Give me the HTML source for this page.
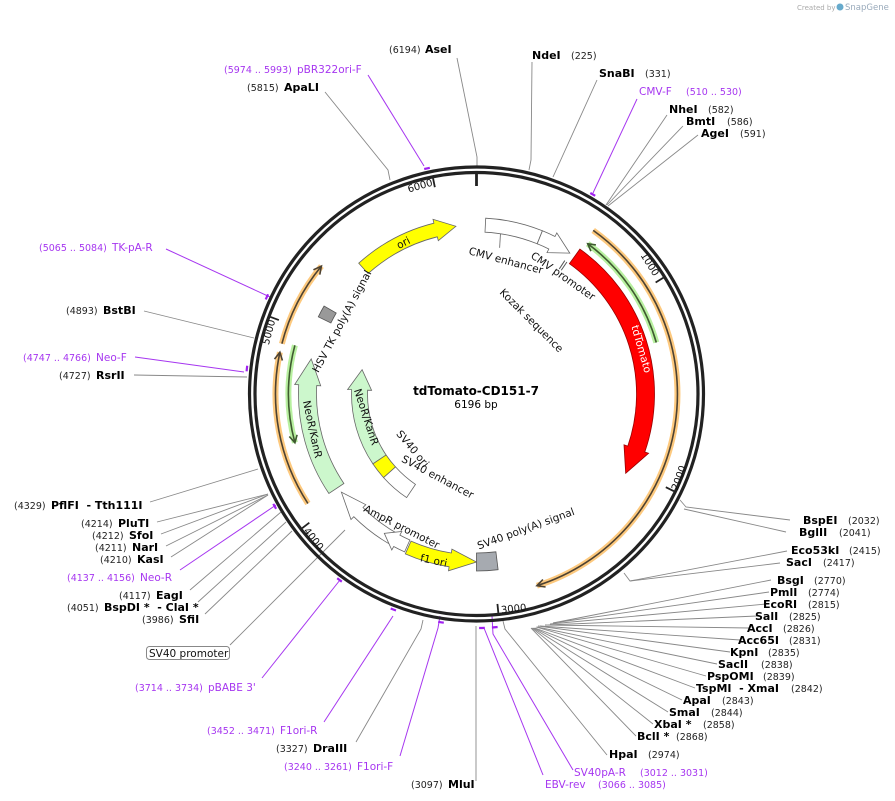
<!DOCTYPE html>
<html><head><meta charset="utf-8"><style>
html,body{margin:0;padding:0;background:#fff;}
svg{display:block;font-family:"DejaVu Sans","Liberation Sans",sans-serif;}
.e{font-size:11px;font-weight:bold;fill:#000}
.n{font-size:9.5px;fill:#222}
.p{font-size:10.5px;fill:#a636f0}
.pn{font-size:9.5px;fill:#a636f0}
.f{font-size:10.5px;fill:#111}
.t{font-size:10px;fill:#111}
</style></head><body>
<svg id="s" width="895" height="801" viewBox="0 0 895 801" xmlns="http://www.w3.org/2000/svg">
<g id="g"></g>
<text x="797" y="10" style="font-size:7px;fill:#aaa">Created by</text>
<text x="845" y="10" style="font-size:8.5px;fill:#9ab">SnapGene</text>
<circle cx="840" cy="7" r="3.5" fill="#6ac"/>

<text x="476" y="395" text-anchor="middle" style="font-size:12px;font-weight:bold">tdTomato-CD151-7</text>
<text x="476" y="408" text-anchor="middle" style="font-size:10.5px">6196 bp</text>

<text class="t" transform="translate(647,266) rotate(58)" text-anchor="middle">1000</text>
<text class="t" transform="translate(682,479) rotate(-70)" text-anchor="middle">2000</text>
<text class="t" transform="translate(514,612) rotate(-6)" text-anchor="middle">3000</text>
<text class="t" transform="translate(311,541) rotate(52)" text-anchor="middle">4000</text>
<text class="t" transform="translate(272,333) rotate(-75)" text-anchor="middle">5000</text>
<text class="t" transform="translate(421,189) rotate(-16)" text-anchor="middle">6000</text>

<text class="f" transform="translate(505,264) rotate(15)" text-anchor="middle">CMV enhancer</text>
<text class="f" transform="translate(561,279) rotate(35)" text-anchor="middle">CMV promoter</text>
<text class="f" transform="translate(529,323) rotate(45)" text-anchor="middle">Kozak sequence</text>
<text class="f" transform="translate(638,350) rotate(74)" text-anchor="middle" style="fill:#fff">tdTomato</text>
<text class="f" transform="translate(345,323) rotate(-62)" text-anchor="middle">HSV TK poly(A) signal</text>
<text class="f" transform="translate(405,246) rotate(-27)" text-anchor="middle">ori</text>
<text class="f" transform="translate(309,430) rotate(78)" text-anchor="middle">NeoR/KanR</text>
<text class="f" transform="translate(363,418) rotate(72)" text-anchor="middle">NeoR/KanR</text>
<text class="f" transform="translate(410,451) rotate(50)" text-anchor="middle">SV40 ori</text>
<text class="f" transform="translate(436,480) rotate(28)" text-anchor="middle">SV40 enhancer</text>
<text class="f" transform="translate(400,530) rotate(27)" text-anchor="middle">AmpR promoter</text>
<text class="f" transform="translate(433,564) rotate(12)" text-anchor="middle">f1 ori</text>
<text class="f" transform="translate(527,532) rotate(-20)" text-anchor="middle">SV40 poly(A) signal</text>

<text class="n" x="389" y="53">(6194)</text><text class="e" x="425" y="53">AseI</text>
<text class="e" x="532" y="59">NdeI</text><text class="n" x="571" y="59">(225)</text>
<text class="e" x="599" y="77">SnaBI</text><text class="n" x="645" y="77">(331)</text>
<text class="p" x="639" y="95">CMV-F</text><text class="pn" x="686" y="95">(510 .. 530)</text>
<text class="e" x="669" y="113">NheI</text><text class="n" x="708" y="113">(582)</text>
<text class="e" x="686" y="125">BmtI</text><text class="n" x="727" y="125">(586)</text>
<text class="e" x="701" y="137">AgeI</text><text class="n" x="740" y="137">(591)</text>

<text class="pn" x="224" y="73">(5974 .. 5993)</text><text class="p" x="297" y="73">pBR322ori-F</text>
<text class="n" x="247" y="91">(5815)</text><text class="e" x="284" y="91">ApaLI</text>
<text class="pn" x="39" y="251">(5065 .. 5084)</text><text class="p" x="112" y="251">TK-pA-R</text>
<text class="n" x="66" y="314">(4893)</text><text class="e" x="103" y="314">BstBI</text>
<text class="pn" x="23" y="361">(4747 .. 4766)</text><text class="p" x="96" y="361">Neo-F</text>
<text class="n" x="59" y="379">(4727)</text><text class="e" x="96" y="379">RsrII</text>

<text class="n" x="14" y="509">(4329)</text><text class="e" x="51" y="509">PflFI &#160;- Tth111I</text>
<text class="n" x="81" y="527">(4214)</text><text class="e" x="118" y="527">PluTI</text>
<text class="n" x="92" y="539">(4212)</text><text class="e" x="129" y="539">SfoI</text>
<text class="n" x="95" y="551">(4211)</text><text class="e" x="132" y="551">NarI</text>
<text class="n" x="100" y="563">(4210)</text><text class="e" x="137" y="563">KasI</text>
<text class="pn" x="67" y="581">(4137 .. 4156)</text><text class="p" x="140" y="581">Neo-R</text>
<text class="n" x="119" y="599">(4117)</text><text class="e" x="156" y="599">EagI</text>
<text class="n" x="67" y="611">(4051)</text><text class="e" x="104" y="611">BspDI * &#160;- ClaI *</text>
<text class="n" x="142" y="623">(3986)</text><text class="e" x="179" y="623">SfiI</text>
<rect x="146.5" y="646.5" width="83" height="13" rx="3" fill="#fff" stroke="#888"/>
<text class="f" x="149" y="657">SV40 promoter</text>
<text class="pn" x="135" y="691">(3714 .. 3734)</text><text class="p" x="208" y="691">pBABE 3'</text>
<text class="pn" x="207" y="734">(3452 .. 3471)</text><text class="p" x="280" y="734">F1ori-R</text>
<text class="n" x="276" y="752">(3327)</text><text class="e" x="313" y="752">DraIII</text>
<text class="pn" x="284" y="770">(3240 .. 3261)</text><text class="p" x="357" y="770">F1ori-F</text>
<text class="n" x="411" y="788">(3097)</text><text class="e" x="448" y="788">MluI</text>

<text class="e" x="803" y="524">BspEI</text><text class="n" x="848" y="524">(2032)</text>
<text class="e" x="799" y="536">BglII</text><text class="n" x="839" y="536">(2041)</text>
<text class="e" x="791" y="554">Eco53kI</text><text class="n" x="849" y="554">(2415)</text>
<text class="e" x="786" y="566">SacI</text><text class="n" x="823" y="566">(2417)</text>
<text class="e" x="777" y="584">BsgI</text><text class="n" x="814" y="584">(2770)</text>
<text class="e" x="770" y="596">PmlI</text><text class="n" x="808" y="596">(2774)</text>
<text class="e" x="763" y="608">EcoRI</text><text class="n" x="808" y="608">(2815)</text>
<text class="e" x="755" y="620">SalI</text><text class="n" x="789" y="620">(2825)</text>
<text class="e" x="747" y="632">AccI</text><text class="n" x="783" y="632">(2826)</text>
<text class="e" x="738" y="644">Acc65I</text><text class="n" x="789" y="644">(2831)</text>
<text class="e" x="730" y="656">KpnI</text><text class="n" x="768" y="656">(2835)</text>
<text class="e" x="718" y="668">SacII</text><text class="n" x="761" y="668">(2838)</text>
<text class="e" x="707" y="680">PspOMI</text><text class="n" x="763" y="680">(2839)</text>
<text class="e" x="696" y="692">TspMI &#160;- XmaI</text><text class="n" x="791" y="692">(2842)</text>
<text class="e" x="683" y="704">ApaI</text><text class="n" x="722" y="704">(2843)</text>
<text class="e" x="669" y="716">SmaI</text><text class="n" x="711" y="716">(2844)</text>
<text class="e" x="654" y="728">XbaI *</text><text class="n" x="703" y="728">(2858)</text>
<text class="e" x="637" y="740">BclI *</text><text class="n" x="676" y="740">(2868)</text>
<text class="e" x="609" y="758">HpaI</text><text class="n" x="648" y="758">(2974)</text>
<text class="p" x="574" y="776">SV40pA-R</text><text class="pn" x="640" y="776">(3012 .. 3031)</text>
<text class="p" x="545" y="788">EBV-rev</text><text class="pn" x="598" y="788">(3066 .. 3085)</text>
</svg>
<script>
(function(){
var NS="http://www.w3.org/2000/svg",g=document.getElementById('g'),CX=476.5,CY=394;
function P(r,a){a=a*Math.PI/180;return [CX+r*Math.sin(a),CY-r*Math.cos(a)];}
function el(t,at){var e=document.createElementNS(NS,t);for(var k in at)e.setAttribute(k,at[k]);g.appendChild(e);return e;}
function pt(p){return p[0].toFixed(1)+","+p[1].toFixed(1);}
function arcD(r,a1,a2){var s=P(r,a1),e=P(r,a2),l=Math.abs(a2-a1)>180?1:0,sw=a2>a1?1:0;return "M"+pt(s)+" A"+r+","+r+" 0 "+l+" "+sw+" "+pt(e);}
var L=[
[457,58,477,157,477,166],[532,62,531,160,529,170],[597,80,553,177],[667,115,606,205],[683,126,607,205],[698,135,608,206],
[325,92,388,170,390,180],[144,311,254,338],[134,375,247,377],
[150,502,258,469],[157,522,268,494],[161,534,268,494],[166,546,268,495],[171,557,268,495],[190,590,281,512],[198,602,286,522],[205,614,292,531],[230,645,345,530],
[356,742,421,629,423,620],[476,781,476,626],
[790,520,686,507,680,500],[786,532,684,509],[787,551,630,581,624,573],[780,563,630,581],
[771,580,553,623],[769,592,553,623],[766,604,550,624],[757,616,548,625],[749,628,545,625],[740,640,540,626],[730,652,538,626],[717,664,537,627],[706,676,536,627],[695,688,535,628],[682,700,534,628],[668,712,533,628],[653,724,532,628],[636,736,531,628],[607,755,505,629,503,621]];
L.forEach(function(a){var s="";for(var i=0;i<a.length;i+=2)s+=a[i]+","+a[i+1]+" ";el('polyline',{points:s,fill:'none',stroke:'#888','stroke-width':0.9});});
var PL=[[368,75,424,166],[637,99,593,193],[166,249,270,297],[135,357,244,372],[180,570,276,505],[262,678,340,580],[324,722,393,616],[400,756,438,628,440,616],[573,770,493,634,492,616],[543,775,484,628]];
PL.forEach(function(a){var s="";for(var i=0;i<a.length;i+=2)s+=a[i]+","+a[i+1]+" ";el('polyline',{points:s,fill:'none',stroke:'#a636f0','stroke-width':1});});
[[5983,231],[520,231],[5075,231],[4756,231],[4146,231],[3724,231],[3461,231],[3250,231],[3021,234],[3075,234]].forEach(function(q){var a=q[0]/6196*360;el('path',{d:arcD(q[1],a-0.7,a+0.7),stroke:'#a020f0','stroke-width':2.2,fill:'none'});});
el('circle',{cx:CX,cy:CY,r:227,fill:'none',stroke:'#222','stroke-width':3.2});
el('circle',{cx:CX,cy:CY,r:221.5,fill:'none',stroke:'#222','stroke-width':3.2});
[0,1000,2000,3000,4000,5000,6000].forEach(function(b){var a=b/6196*360;var o=P(220,a),i=P(b==0?208:211,a);el('line',{x1:o[0],y1:o[1],x2:i[0],y2:i[1],stroke:'#222','stroke-width':b==0?2.8:1.8});});
function feat(r,w,a1,a2,dir,h,fill,stroke){
 var ro=r+w/2,ri=r-w/2,hw=4,d;
 if(dir==1){var b=a2-h;d="M"+pt(P(ro,a1))+" A"+ro+","+ro+" 0 0 1 "+pt(P(ro,b))+" L"+pt(P(ro+hw,b))+" L"+pt(P(r,a2))+" L"+pt(P(ri-hw,b))+" L"+pt(P(ri,b))+" A"+ri+","+ri+" 0 0 0 "+pt(P(ri,a1))+" Z";}
 else if(dir==-1){var b=a1+h;d="M"+pt(P(ro,a2))+" A"+ro+","+ro+" 0 0 0 "+pt(P(ro,b))+" L"+pt(P(ro+hw,b))+" L"+pt(P(r,a1))+" L"+pt(P(ri-hw,b))+" L"+pt(P(ri,b))+" A"+ri+","+ri+" 0 0 1 "+pt(P(ri,a2))+" Z";}
 else {d="M"+pt(P(ro,a1))+" A"+ro+","+ro+" 0 0 1 "+pt(P(ro,a2))+" L"+pt(P(ri,a2))+" A"+ri+","+ri+" 0 0 0 "+pt(P(ri,a1))+" Z";}
 el('path',{d:d,fill:fill,stroke:stroke||'#666','stroke-width':0.8});
}
feat(169,14,3,22,0,0,'#fff');
feat(169,14,22,33.5,1,7,'#fff');
feat(169,18,35.5,118,1,9,'#f00','#900');
feat(169,14,318,353,1,7,'#ff0');
feat(169,14,296,300,0,0,'#999','#555');
feat(169,18,236,282,1,9,'#ccf7cc');
feat(167,13,209,234,1,9,'#fff');
feat(167,13,204.5,213.5,1,5,'#fff');
feat(168,14,180,204,-1,9,'#ff0');
feat(168,18,173,180,0,0,'#a6aab0','#555');
feat(117,16,236,282,1,10,'#ccf7cc');
feat(117,16,228,236,0,0,'#ff0');
feat(117,16,214,228,0,0,'#fff');
var k1=P(150,33.5),k2=P(160,33.5);el('line',{x1:k1[0],y1:k1[1],x2:k2[0],y2:k2[1],stroke:'#555','stroke-width':1});
k1=P(150,34.4);k2=P(160,34.4);el('line',{x1:k1[0],y1:k1[1],x2:k2[0],y2:k2[1],stroke:'#555','stroke-width':1});
var q1=P(162,8.5),q2=P(148,9);el('line',{x1:q1[0],y1:q1[1],x2:q2[0],y2:q2[1],stroke:'#666','stroke-width':0.8});
function thin(r,a1,a2,dir,halo,line){
 el('path',{d:arcD(r,a1,a2),fill:'none',stroke:halo,'stroke-width':6,'stroke-linecap':'butt'});
 el('path',{d:arcD(r,a1,a2),fill:'none',stroke:line,'stroke-width':1.6});
 var tip=dir==1?a2:a1,b=dir==1?a2-2.2:a1+2.2,x=P(r+4,b),y=P(r-4,b);
 el('polyline',{points:pt(x)+" "+pt(P(r,tip))+" "+pt(y),fill:'none',stroke:line,'stroke-width':1.6});
}
thin(201,35.5,162.5,1,'#fdc97e','#4d4232');
thin(187,36.5,74,-1,'#b8f0a0','#3f5a30');
thin(201,284.5,309.5,1,'#fdc97e','#4d4232');
thin(201,237,282,1,'#fdc97e','#4d4232');
thin(188,255,285,-1,'#b8f0a0','#3f5a30');
})();
</script>
</body></html>
